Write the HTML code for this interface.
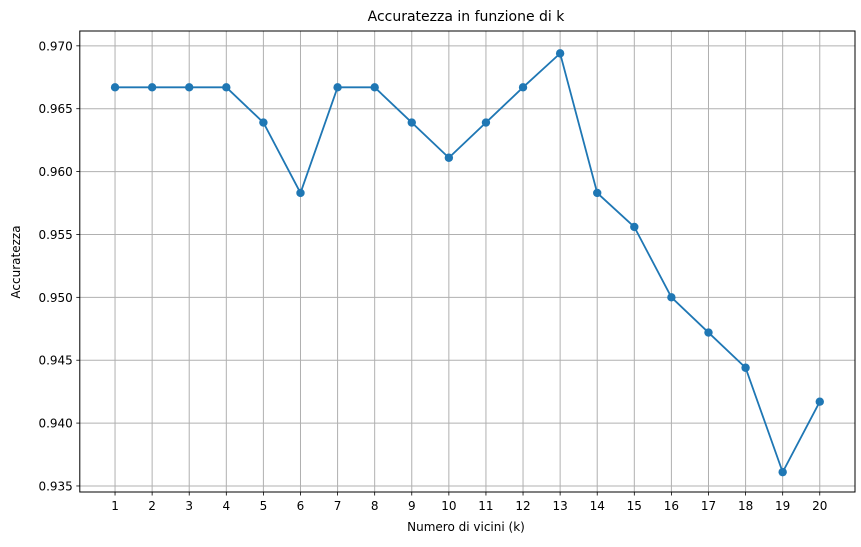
<!DOCTYPE html>
<html><head><meta charset="utf-8"><style>
body{margin:0;background:#fff;font-family:"Liberation Sans","DejaVu Sans",sans-serif;}
svg text{font-family:"DejaVu Sans","Liberation Sans",sans-serif;fill:#000;}
</style></head><body>
<svg id="chart" width="861" height="542" xmlns="http://www.w3.org/2000/svg">
<text x="466" y="21" font-size="14" text-anchor="middle">Accuratezza in funzione di k</text>
<text x="466" y="531" font-size="12" text-anchor="middle">Numero di vicini (k)</text>
<text x="20" y="262" font-size="12" text-anchor="middle" transform="rotate(-90 20 262)">Accuratezza</text>
<g id="grid"></g><g id="ticks"></g><g id="series"></g>
<rect x="79.8" y="31" width="775.2" height="461" fill="none" stroke="#000" stroke-width="1"/>
</svg>
<script>
const categories=[1,2,3,4,5,6,7,8,9,10,11,12,13,14,15,16,17,18,19,20];
const accuracy=[0.9667,0.9667,0.9667,0.9667,0.9639,0.9583,0.9667,0.9667,0.9639,0.9611,0.9639,0.9667,0.9694,0.9583,0.9556,0.95,0.9472,0.9444,0.9361,0.9417];
const yTicks=[0.935,0.940,0.945,0.950,0.955,0.960,0.965,0.970];
const yTickLabels=["0.935","0.940","0.945","0.950","0.955","0.960","0.965","0.970"];
const NS="http://www.w3.org/2000/svg";
const L=79.8,R=855,T=31,B=492;
const xmin=0.05,xmax=20.95,ymin=0.93452,ymax=0.97118;
function xs(v){return L+(v-xmin)/(xmax-xmin)*(R-L);}
function ys(v){return B-(v-ymin)/(ymax-ymin)*(B-T);}
function mk(tag,attrs,parent){const e=document.createElementNS(NS,tag);for(const k in attrs)e.setAttribute(k,attrs[k]);parent.appendChild(e);return e;}
const grid=document.getElementById('grid'),ticks=document.getElementById('ticks'),series=document.getElementById('series');
categories.forEach(c=>{const x=xs(c);
 const g=mk('line',{x1:x,x2:x,y1:T,y2:B,stroke:'#b0b0b0','stroke-width':1},grid);
 
 
 mk('line',{x1:x,x2:x,y1:B,y2:B+3.5,stroke:'#000','stroke-width':0.8},ticks);
 const t=mk('text',{x:x,y:B+18,'font-size':12,'text-anchor':'middle'},ticks);t.textContent=c;
 
 
});
yTicks.forEach((v,i)=>{const y=ys(v);
 const g=mk('line',{x1:L,x2:R,y1:y,y2:y,stroke:'#b0b0b0','stroke-width':1},grid);
 
 
 mk('line',{x1:L-3.5,x2:L,y1:y,y2:y,stroke:'#000','stroke-width':0.8},ticks);
 const t=mk('text',{x:L-7,y:y+4.5,'font-size':12,'text-anchor':'end'},ticks);t.textContent=yTickLabels[i];
 
 
});
const pts=categories.map((c,i)=>xs(c)+','+ys(accuracy[i])).join(' ');
const pl=mk('polyline',{points:pts,fill:'none',stroke:'#1f77b4','stroke-width':1.8},series);


categories.forEach((c,i)=>{
 const m=mk('circle',{cx:xs(c),cy:ys(accuracy[i]),r:4.2,fill:'#1f77b4'},series);
 
 
});
</script>
</body></html>
